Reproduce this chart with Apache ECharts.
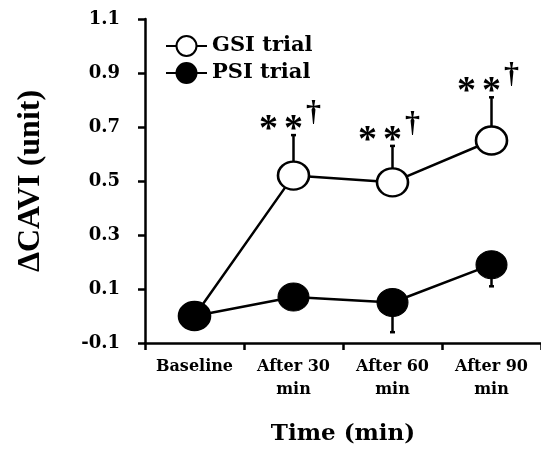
<!DOCTYPE html>
<html>
<head>
<meta charset="utf-8">
<script src="https://cdn.jsdelivr.net/npm/echarts@6/dist/echarts.min.js"></script>
<style>html,body{margin:0;padding:0;background:#fff}#c{width:541px;height:451px}</style>
</head>
<body>
<div id="c"></div>
<script>
const categories = ['Baseline', 'After 30\nmin', 'After 60\nmin', 'After 90\nmin'];
const yTickValues = [-0.1, 0.1, 0.3, 0.5, 0.7, 0.9, 1.1];
const gsiMean = [0.00, 0.52, 0.495, 0.65];
const gsiUpper = [null, 0.67, 0.63, 0.81];
const psiMean = [0.00, 0.07, 0.05, 0.19];
const psiLower = [null, null, -0.06, 0.11];
const sigStars = ['', '**', '**', '**'];
const sigDagger = ['', '†', '†', '†'];

const ELLIPSE = 'path://M0,50A50,50,0,1,1,100,50A50,50,0,1,1,0,50Z';
const serif = 'DejaVu Serif';

function errData(mean, bound) {
  const out = [];
  mean.forEach((m, i) => { if (bound[i] != null) out.push([i, m, bound[i]]); });
  return out;
}
function sigData() {
  const out = [];
  gsiUpper.forEach((u, i) => { if (sigStars[i]) out.push([i, u]); });
  return out;
}

function errRender(params, api) {
  const x = api.value(0);
  const p0 = api.coord([x, api.value(1)]);
  const p1 = api.coord([x, api.value(2)]);
  return {
    type: 'group',
    children: [
      { type: 'line', shape: { x1: p0[0], y1: p0[1], x2: p1[0], y2: p1[1] }, style: { stroke: '#000', lineWidth: 2.5 } },
      { type: 'line', shape: { x1: p1[0] - 2.5, y1: p1[1], x2: p1[0] + 2.5, y2: p1[1] }, style: { stroke: '#000', lineWidth: 2.5 } }
    ]
  };
}

function sigRender(params, api) {
  const i = api.value(0);
  const p = api.coord([i, api.value(1)]);
  const stars = sigStars[i];
  const dag = sigDagger[i];
  const starFont = 'bold 38px "Liberation Serif"';
  return {
    type: 'group',
    children: [
      { type: 'text', x: p[0] - 25, y: p[1] - 5, style: { text: stars[0], font: starFont, fill: '#000', align: 'center', verticalAlign: 'middle' } },
      { type: 'text', x: p[0], y: p[1] - 5, style: { text: stars[1], font: starFont, fill: '#000', align: 'center', verticalAlign: 'middle' } },
      { type: 'text', x: p[0] + 20, y: p[1] - 22, style: { text: dag, font: 'bold 30px "Liberation Serif"', fill: '#000', align: 'center', verticalAlign: 'middle' } }
    ]
  };
}

const chart = echarts.init(document.getElementById('c'), null, { renderer: 'canvas' });
chart.setOption({
  animation: false,
  backgroundColor: '#fff',
  grid: { left: 145, top: 19, width: 402, bottom: 108, containLabel: false },
  legend: {
    orient: 'vertical', left: 160, top: 30, itemWidth: 41, itemHeight: 25, itemGap: 5,
    data: ['GSI trial', 'PSI trial'],
    textStyle: { fontFamily: serif, fontWeight: 'bold', fontSize: 21, color: '#000', padding: [0, 0, 0, 0] }
  },
  xAxis: {
    type: 'category', data: categories, boundaryGap: true,
    name: 'Time (min)', nameLocation: 'middle', nameGap: 80,
    nameTextStyle: { fontFamily: serif, fontWeight: 'bold', fontSize: 23, color: '#000' },
    axisLine: { onZero: false, lineStyle: { color: '#000', width: 2.5 } },
    axisTick: { show: true, length: 7, lineStyle: { color: '#000', width: 2.5 } },
    axisLabel: { margin: 12, fontFamily: serif, fontWeight: 'bold', fontSize: 16, color: '#000', lineHeight: 23, interval: 0 }
  },
  yAxis: {
    type: 'value', min: -0.1, max: 1.1, interval: 0.2,
    name: 'ΔCAVI (unit)', nameLocation: 'middle', nameGap: 98, nameRotate: 90,
    nameTextStyle: { fontFamily: 'Liberation Serif', fontWeight: 'bold', fontSize: 32, color: '#000' },
    axisLine: { show: true, lineStyle: { color: '#000', width: 2.5 } },
    axisTick: { show: true, length: 7, lineStyle: { color: '#000', width: 2.5 } },
    splitLine: { show: false },
    axisLabel: { margin: 25, fontFamily: serif, fontWeight: 'bold', fontSize: 18, color: '#000',
      formatter: v => { const t = yTickValues.find(k => Math.abs(k - v) < 1e-6); return t == null ? '' : t.toFixed(1); } }
  },
  series: [
    { type: 'custom', name: 'gsiErr', z: 1, renderItem: errRender, data: errData(gsiMean, gsiUpper), silent: true },
    { type: 'custom', name: 'psiErr', z: 1, renderItem: errRender, data: errData(psiMean, psiLower), silent: true },
    {
      type: 'line', name: 'GSI trial', data: gsiMean, z: 3,
      symbol: ELLIPSE, symbolSize: [31, 28],
      lineStyle: { color: '#000', width: 2.5 },
      itemStyle: { color: '#fff', borderColor: '#000', borderWidth: 2.5 }
    },
    {
      type: 'line', name: 'PSI trial', data: psiMean, z: 4,
      symbol: ELLIPSE, symbolSize: [31, 28],
      lineStyle: { color: '#000', width: 2.5 },
      itemStyle: { color: '#000', borderColor: '#000', borderWidth: 1 }
    },
    { type: 'custom', name: 'sig', z: 5, renderItem: sigRender, data: sigData(), silent: true }
  ]
});
</script>
</body>
</html>
